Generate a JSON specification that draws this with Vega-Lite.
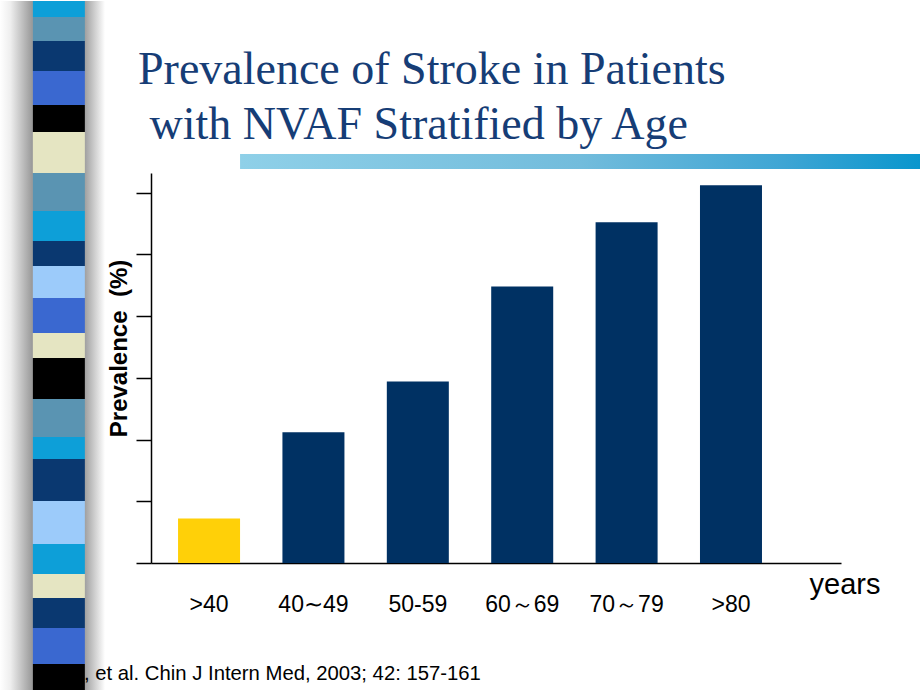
{
  "$schema": "https://vega.github.io/schema/vega-lite/v6.json",
  "padding": 0,
  "background": "white",
  "autosize": {"type": "pad"},
  "spacing": 1,
  "config": {"view": {"stroke": null}},
  "resolve": {"scale": {"color": "independent", "x": "independent", "y": "independent"}},
  "title": {
    "text": ", et al. Chin J Intern Med, 2003; 42: 157-161",
    "orient": "bottom",
    "anchor": "start",
    "frame": "bounds",
    "offset": -28,
    "dx": 84,
    "font": "Liberation Sans",
    "fontSize": 20.3,
    "fontWeight": "normal",
    "color": "black"
  },
  "hconcat": [
    {
      "width": 105,
      "height": 690,
      "layer": [
        {
          "data": {"values": [{"band": "shadow"}]},
          "mark": {
            "type": "rect",
            "color": {
              "gradient": "linear",
              "x1": 0, "x2": 1, "y1": 0, "y2": 0,
              "stops": [
                {"offset": 0, "color": "#ffffff"},
                {"offset": 0.1, "color": "#eeeeee"},
                {"offset": 0.3, "color": "#9c9c9c"},
                {"offset": 0.8, "color": "#9c9c9c"},
                {"offset": 1, "color": "#ffffff"}
              ]
            }
          },
          "encoding": {
            "y": {"datum": 0, "type": "quantitative", "scale": {"domain": [0, 690], "reverse": true, "nice": false}, "axis": null},
            "y2": {"datum": 690}
          }
        },
        {
          "data": {
            "values": [
              {"seg": 1, "len": 16, "tone": "cyan"},
              {"seg": 2, "len": 24, "tone": "steel"},
              {"seg": 3, "len": 30, "tone": "navy"},
              {"seg": 4, "len": 34, "tone": "royal"},
              {"seg": 5, "len": 27, "tone": "black"},
              {"seg": 6, "len": 41, "tone": "beige"},
              {"seg": 7, "len": 38, "tone": "steel"},
              {"seg": 8, "len": 30, "tone": "cyan"},
              {"seg": 9, "len": 25, "tone": "navy"},
              {"seg": 10, "len": 32, "tone": "lightblue"},
              {"seg": 11, "len": 35, "tone": "royal"},
              {"seg": 12, "len": 25, "tone": "beige"},
              {"seg": 13, "len": 41, "tone": "black"},
              {"seg": 14, "len": 38, "tone": "steel"},
              {"seg": 15, "len": 22, "tone": "cyan"},
              {"seg": 16, "len": 42, "tone": "navy"},
              {"seg": 17, "len": 43, "tone": "lightblue"},
              {"seg": 18, "len": 30, "tone": "cyan"},
              {"seg": 19, "len": 24, "tone": "beige"},
              {"seg": 20, "len": 30, "tone": "navy"},
              {"seg": 21, "len": 36, "tone": "royal"},
              {"seg": 22, "len": 27, "tone": "black"}
            ]
          },
          "mark": {"type": "bar"},
          "encoding": {
            "x": {"datum": "strip", "type": "nominal", "scale": {"paddingInner": 0, "paddingOuter": 0.51, "align": 0.62}, "axis": null},
            "y": {"field": "len", "type": "quantitative", "stack": "zero", "axis": null},
            "order": {"field": "seg", "type": "quantitative"},
            "color": {
              "field": "tone",
              "type": "nominal",
              "scale": {
                "domain": ["cyan", "steel", "navy", "royal", "black", "beige", "lightblue"],
                "range": ["#0d9fd8", "#5a94b2", "#0a3870", "#3a68d0", "#000000", "#e5e5c2", "#9ccbfa"]
              },
              "legend": null
            }
          }
        }
      ]
    },
    {
      "width": 690,
      "height": 690,
      "view": {"stroke": "white"},
      "title": {
        "text": ["Prevalence of Stroke in Patients", "\u200b\u00a0with NVAF Stratified by Age"],
        "orient": "top",
        "anchor": "start",
        "frame": "group",
        "offset": -148,
        "dx": -13,
        "font": "Liberation Serif",
        "fontSize": 46,
        "fontWeight": "normal",
        "color": "#163d76",
        "lineHeight": 55
      },
      "layer": [
        {
          "data": {
            "values": [
              {"age": ">40", "prevalence": 3.6},
              {"age": "40∼49", "prevalence": 10.6},
              {"age": "50-59", "prevalence": 14.7},
              {"age": "60～69", "prevalence": 22.4},
              {"age": "70～79", "prevalence": 27.6},
              {"age": ">80", "prevalence": 30.6}
            ]
          },
          "mark": {"type": "bar"},
          "encoding": {
            "x": {
              "field": "age",
              "type": "nominal",
              "sort": null,
              "scale": {"domain": [">40", "40∼49", "50-59", "60～69", "70～79", ">80"], "paddingInner": 0.406, "paddingOuter": 0.508, "align": 0.255},
              "axis": {
                "title": "years",
                "offset": -128,
                "bandPosition": 0.5,
                "domainColor": "black",
                "domainWidth": 1.5,
                "ticks": false,
                "tickSize": 0,
                "labelPadding": 30,
                "labelBaseline": "top",
                "labelAlign": "center",
                "labelFont": "Liberation Sans",
                "labelFontSize": 23,
                "labelColor": "black",
                "labelAngle": 0,
                "titleFont": "Liberation Sans",
                "titleFontSize": 29,
                "titleFontWeight": "normal",
                "titleColor": "black",
                "titleX": 658,
                "titleY": 30,
                "titleAlign": "left",
                "titleBaseline": "alphabetic"
              }
            },
            "y": {
              "field": "prevalence",
              "type": "quantitative",
              "scale": {"domain": [0, 31.6], "range": [562, 172], "nice": false},
              "axis": {
                "values": [0, 5, 10, 15, 20, 25, 30],
                "labels": false,
                "grid": false,
                "tickSize": 15,
                "tickColor": "black",
                "tickWidth": 1.5,
                "domainColor": "black",
                "domainWidth": 1.5,
                "title": "Prevalence\u00a0 (%)",
                "titleFont": "Liberation Sans",
                "titleFontSize": 24,
                "titleFontWeight": "bold",
                "titleColor": "black",
                "titleAngle": 270,
                "titleAlign": "center",
                "titleBaseline": "alphabetic",
                "titleX": -25,
                "titleY": 347
              }
            },
            "color": {
              "field": "age",
              "type": "nominal",
              "scale": {
                "domain": [">40", "40∼49", "50-59", "60～69", "70～79", ">80"],
                "range": ["#ffd008", "#003163", "#003163", "#003163", "#003163", "#003163"]
              },
              "legend": null
            }
          }
        },
        {
          "data": {"values": [{"band": "banner"}]},
          "mark": {
            "type": "rect",
            "color": {
              "gradient": "linear",
              "x1": 0, "x2": 1, "y1": 0, "y2": 0,
              "stops": [
                {"offset": 0, "color": "#8fd0e8"},
                {"offset": 0.5, "color": "#72bcdc"},
                {"offset": 0.8, "color": "#3ea5d4"},
                {"offset": 1, "color": "#0996cd"}
              ]
            }
          },
          "encoding": {
            "x": {"datum": ">40", "type": "nominal", "bandPosition": 1},
            "x2": {"datum": ">80", "bandPosition": 3.56},
            "y": {"datum": 31.93, "type": "quantitative"},
            "y2": {"datum": 33.14}
          }
        }
      ]
    }
  ]
}
